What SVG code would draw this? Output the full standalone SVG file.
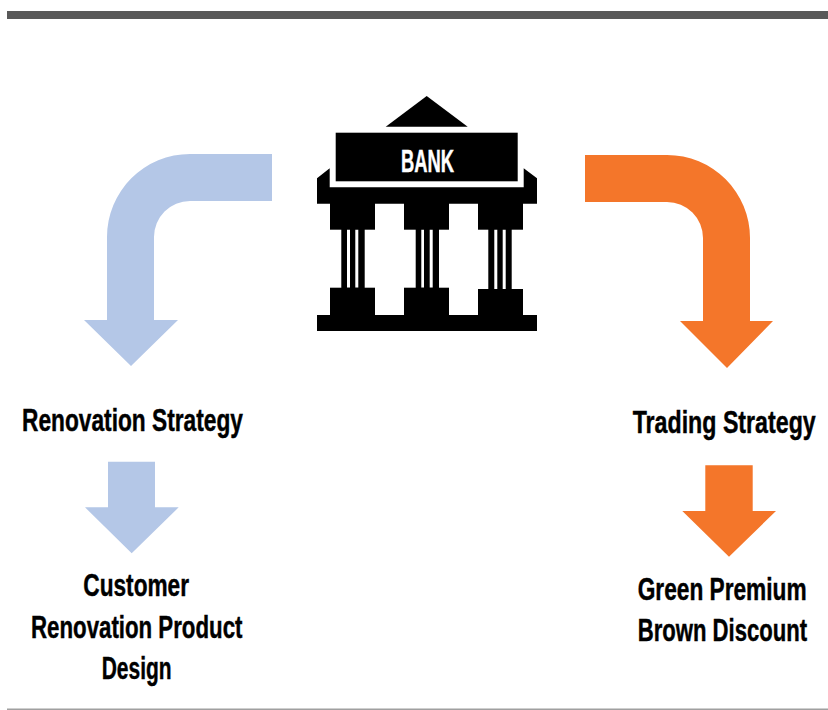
<svg xmlns="http://www.w3.org/2000/svg" width="828" height="710" viewBox="0 0 828 710">
<style>
.t{font-family:"Liberation Sans",Arial,sans-serif;font-weight:700;font-size:32px;fill:#000;stroke:#000;stroke-width:.45}
.b{fill:#000}
.w{fill:#fff}
.blue{fill:#b4c7e7}
.orange{fill:#f4762a}
</style>
<rect width="828" height="710" fill="#fff"/>
<rect x="7" y="11" width="821" height="8" fill="#595959"/>
<rect x="7" y="708.5" width="821" height="1.5" fill="#a0a0a0"/>
<g id="bank">
<path class="b" d="M426.7 96L467.7 126.7H385.7Z"/>
<path class="b" d="M329.7 168.3V187.3H523.7V168.3L537 178.3V203.7H317V178.3Z"/>
<rect class="b" x="330" y="203" width="45" height="26.7"/>
<rect class="b" x="404" y="203" width="45" height="26.7"/>
<rect class="b" x="478" y="203" width="45" height="26.7"/>
<rect class="b" x="341.3" y="229" width="23.4" height="59"/>
<rect class="b" x="415.7" y="229" width="23.3" height="59"/>
<rect class="b" x="488.3" y="229" width="23.4" height="61"/>
<path class="w" d="M347 229.7H350V287.7H347ZM355.3 229.7H358.3V287.7H355.3ZM421.3 229.7H424V287.7H421.3ZM429.7 229.7H432.7V287.7H429.7ZM494.3 229.7H497.3V289H494.3ZM502.7 229.7H505.7V289H502.7Z"/>
<rect class="b" x="330" y="287.7" width="45" height="28"/>
<rect class="b" x="404" y="287.7" width="45" height="28"/>
<rect class="b" x="478" y="289" width="45" height="27"/>
<rect class="b" x="317" y="315" width="220" height="16"/>
<rect class="b" x="335.7" y="132.7" width="182" height="48.6"/>
<text class="t" transform="translate(401 172.3) scale(.574 1)" style="fill:#fff;stroke:#fff">BANK</text>
</g>
<g id="connectors">
<path class="blue" d="M272 154V201H190A36 36 0 0 0 154 237V320H178L131 366L84 320H107V237A83 83 0 0 1 190 154Z"/>
<path class="orange" d="M585 155V202H667A36 36 0 0 1 703 238V321H773L727 368L680 321H750V238A83 83 0 0 0 667 155Z"/>
<path class="blue" d="M108 461.7H155V507.3H178.7L131.7 553.3L85 507.3H108Z"/>
<path class="orange" d="M705.3 465.3H752.7V511H776L729 556.7L682.3 511H705.3Z"/>
</g>
<g id="renovation-strategy"><text class="t" transform="translate(22 430.7) scale(.71 1)">Renovation Strategy</text></g>
<g id="renovation-design">
<text class="t" transform="translate(83.3 595.7) scale(.708 1)">Customer</text>
<text class="t" transform="translate(31 638) scale(.696 1)">Renovation Product</text>
<text class="t" transform="translate(101.7 679.3) scale(.656 1)">Design</text>
</g>
<g id="trading-strategy"><text class="t" transform="translate(632.7 433.3) scale(.725 1)">Trading Strategy</text></g>
<g id="green-brown">
<text class="t" transform="translate(637.7 600) scale(.709 1)">Green Premium</text>
<text class="t" transform="translate(637.7 641.3) scale(.691 1)">Brown Discount</text>
</g>
</svg>
